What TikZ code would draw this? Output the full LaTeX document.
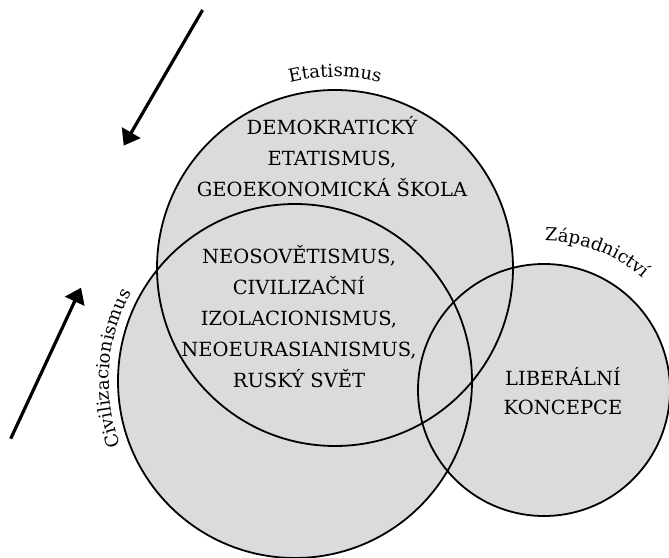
\documentclass[tikz,border=0pt]{standalone}
\usepackage{fontspec}
\setmainfont{DejaVu Serif}
\usetikzlibrary{arrows.meta, decorations.text}
\definecolor{venngray}{HTML}{DADBDD}

\begin{document}
\begin{tikzpicture}[x=1pt, y=1pt,
    venn/.style={fill=venngray},
    rim/.style={line width=1.8pt},
    trend/.style={line width=3.2pt, -{Triangle[length=15pt,width=21pt]}},
    concept/.style={align=center, inner sep=0pt, anchor=base,
      font=\fontsize{19.5}{31}\selectfont},
    school/.style={decorate, decoration={text along path, text align=center,
      text={|\fontsize{18}{18}\selectfont|#1}}}]
  \useasboundingbox (0,0) rectangle (669,557);
  % centres of the three circles
  \coordinate (etat) at (335,289);
  \coordinate (civ) at (295,176);
  \coordinate (zap) at (544,167);
  % fill first, outlines on top
  \fill[venn] (etat) circle[radius=178] (civ) circle[radius=177] (zap) circle[radius=126];
  \draw[rim] (etat) circle[radius=178] (civ) circle[radius=177] (zap) circle[radius=126];

  \path[school=Etatismus] ([shift={(120:191)}]etat) arc[start angle=120, end angle=60, radius=191];
  \path[school=Civilizacionismus] ([shift={(206:186)}]civ) arc[start angle=206, end angle=146, radius=186];
  \path[school=Západnictví] ([shift={(109:149)}]zap) arc[start angle=109, end angle=29, radius=149];

  % base = last line
  \node[concept] (etatText) at (332,360) {DEMOKRATICKÝ\\ETATISMUS,\\GEOEKONOMICKÁ ŠKOLA};
  \node[concept] (coreText) at (299,169) {NEOSOVĚTISMUS,\\CIVILIZAČNÍ\\IZOLACIONISMUS,\\NEOEURASIANISMUS,\\RUSKÝ SVĚT};
  \node[concept, font=\fontsize{19.5}{29}\selectfont] (zapText) at (563,142) {LIBERÁLNÍ\\KONCEPCE};

  % shifts between the schools
  \coordinate (topFrom) at (202.6,547);
  \coordinate (topTo) at (123.7,411.4);
  \coordinate (leftFrom) at (10.7,118.3);
  \coordinate (leftTo) at (81,269.3);
  \draw[trend] (topFrom) -- (topTo);
  \draw[trend] (leftFrom) -- (leftTo);
\end{tikzpicture}
\end{document}
